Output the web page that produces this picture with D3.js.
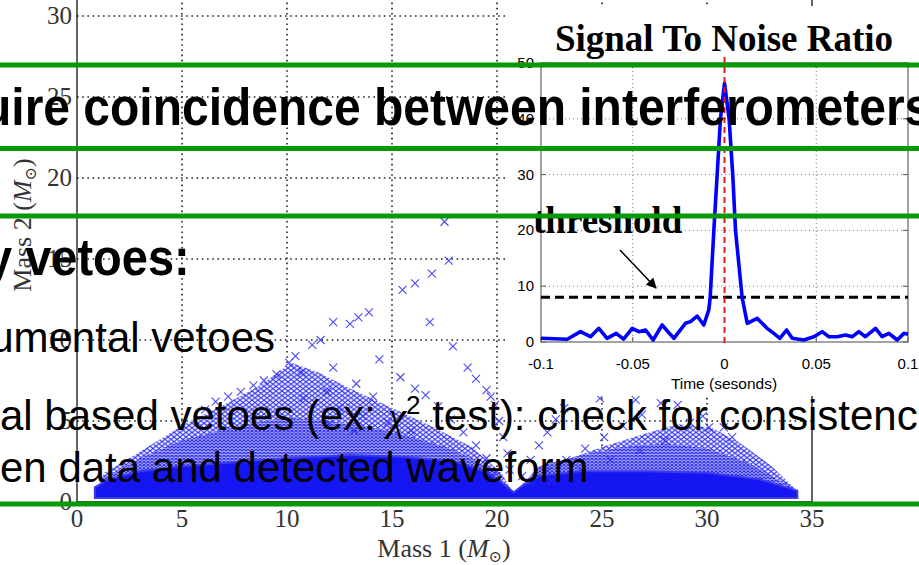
<!DOCTYPE html>
<html>
<head>
<meta charset="utf-8">
<script src="https://cdn.jsdelivr.net/npm/d3@7"></script>
<style>
  body { margin: 0; background: #fff; }
  svg { display: block; }
</style>
</head>
<body>
<svg id="chart" width="919" height="565"></svg>
<script>
// ---- template bank (Mass 1 vs Mass 2) ----
const massTicks = [0, 5, 10, 15, 20, 25, 30, 35];

// solid, fully packed part of the bank (m1, m2)
const bandOutline = [[0.85,0.25],[0.85,0.9],[1.5,1.4],[3,1.9],[5,2.2],[8,2.5],[10,2.7],[13,2.9],[15.5,2.8],[18,2.5],
  [19.6,1.8],[20.4,1.0],[20.8,0.6],[21.2,1.0],[22,1.6],[24,1.9],[27,1.9],[30,1.8],[32.5,1.4],[34.3,0.7],[34.3,0.25]];
// densely hatched part just above it
const packedOutline = [[0.9,0.3],[0.9,0.7],[1.3,1.5],[3,2.7],[5,3.8],[8,4.8],[10,5.2],[12,5.0],[14,4.6],[16,4.0],
  [18,3.2],[19.8,2.0],[20.8,0.5],[22,2.2],[24,2.9],[26,3.4],[28,3.6],[30,3.3],[32,2.4],[34.3,0.7],[34.3,0.3]];
// loosely hatched outer parts
const wedgeOutline = [[0.9,0.8],[1.3,1.8],[3,3.1],[5,4.7],[7,6.0],[8.6,7.1],[10.2,8.6],[11.5,8.0],[13,7.0],[15,5.8],
  [17,4.6],[18.8,3.4],[20.2,1.8],[20.8,0.5]];
const triOutline = [[21.0,0.6],[22.5,2.2],[25,3.4],[27,4.2],[28.6,4.8],[30.2,4.6],[31.5,3.7],[33,2.3],[34.3,0.7]];
// sparse templates drawn one by one
const templatePts = [
  [6.1,5.7],[6.6,6.2],[7.2,6.5],[7.8,6.8],[8.4,7.2],[8.9,7.5],[9.5,7.9],[10.1,8.6],[10.4,9.0],[11.2,9.7],[11.6,10.0],
  [12.2,11.1],[13.0,11.0],[13.4,11.4],[13.9,11.7],[15.5,13.1],[16.1,13.5],[16.9,14.1],[17.7,14.9],[17.5,17.3],
  [16.8,11.1],[17.9,9.6],[10.7,8.0],[12.2,8.3],[14.4,8.8],[15.4,7.7],[16.1,7.0],[16.6,6.6],[13.3,7.3],[11.9,6.8],
  [10.8,6.4],[14.1,6.5],[18.6,8.3],[19.0,7.6],[19.5,6.9],[19.7,6.5],
  [19.9,6.0],[20.1,5.0],[20.3,4.0],[20.5,3.0],[20.6,2.0],
  [17.2,5.9],[17.8,5.1],[18.4,4.3],[19.0,3.5],[19.5,2.7],[20.0,1.9],
  [12.5,5.8],[13.6,5.3],[14.8,4.9],[15.9,4.4],[12.0,4.8],[13.2,4.4],
  [21.2,1.6],[21.6,2.6],[22.0,3.5],[22.4,4.3],[22.8,5.1],[23.2,5.8],
  [21.6,1.2],[22.4,1.9],[23.3,2.6],[24.2,3.3],[25.1,4.0],[26.0,4.7],[26.9,5.4],[27.8,6.1],[28.6,6.0],
  [22.6,1.3],[24.0,2.0],[25.4,2.6],[26.8,3.2],[28.0,3.8],
  [29.2,4.9],[30.1,4.6],[30.8,4.6],[31.2,4.0],[29.8,5.3],[24.9,6.4],[26.6,6.3]
];

// ---- inset: signal to noise ratio ----
const snrTime = [-0.1,-0.0857,-0.0785,-0.073,-0.0685,-0.064,-0.059,-0.055,-0.0503,-0.0467,-0.043,-0.0389,-0.034,
  -0.0276,-0.0213,-0.0185,-0.0149,-0.0113,-0.0086,-0.0078,-0.0058,-0.004,-0.0022,0.0,0.0025,0.0045,0.006,0.0096,
  0.0124,0.0178,0.0232,0.0269,0.0302,0.0338,0.0369,0.0432,0.0487,0.0532,0.0569,0.0614,0.066,0.0697,0.0732,0.0768,
  0.0823,0.0859,0.0896,0.0941,0.0978,0.1];
const snrValue = [0.66,0.5,1.85,0.95,2.45,0.66,1.55,0.5,2.45,1.85,2.15,0.36,3.05,
  0.66,3.35,3.65,4.65,3.05,5.7,8.0,20,30,40,46.4,40,30,20,8,
  3.35,4.25,2.45,1.55,0.66,2.15,0.66,0.36,0.95,1.85,0.95,0.95,1.25,0.95,1.85,0.95,
  2.45,0.95,1.55,0.36,1.55,1.4];
const snrXTicks = [-0.1, -0.05, 0, 0.05, 0.1];
const snrYTicks = [0, 10, 20, 30, 40, 50];
const threshold = 8;

// ---- slide text over the figure ----
const slideLines = [
  "uire coincidence between interferometers",
  "y vetoes:",
  "umental vetoes",
  "al based vetoes (ex: ",
  "en data and detected waveform"
];

const svg = d3.select("#chart");

// main axes
const x = d3.scaleLinear().domain([0, 35]).range([77, 812]);
const y = d3.scaleLinear().domain([0, 35]).range([502, -65]);

const main = svg.append("g");

// dotted grid
main.selectAll(".vgrid").data(massTicks.slice(1, -1)).enter().append("line")
  .attr("x1", d => x(d)).attr("x2", d => x(d))
  .attr("y1", y(35)).attr("y2", y(0))
  .attr("stroke", "#222").attr("stroke-width", 1.6).attr("stroke-dasharray", "1.6,3.6");
main.selectAll(".hgrid").data(massTicks.slice(1, -1)).enter().append("line")
  .attr("x1", x(0)).attr("x2", x(35))
  .attr("y1", d => y(d)).attr("y2", d => y(d))
  .attr("stroke", "#222").attr("stroke-width", 1.6).attr("stroke-dasharray", "1.6,3.6");

// hatch patterns for overlapping crosses
const defs = svg.append("defs");
let addHatch = (id, w, h, col, sw, bg) => {
  let p = defs.append("pattern").attr("id", id)
    .attr("patternUnits", "userSpaceOnUse").attr("width", w).attr("height", h);
  if (bg) p.append("rect").attr("width", w).attr("height", h).attr("fill", bg);
  p.append("path").attr("d", `M0,0L${w},${h}M0,${h}L${w},0`)
    .attr("stroke", col).attr("stroke-width", sw).attr("fill", "none");
};
addHatch("hatch", 6, 4.6, "#3030ee", 1, "#eeeefd");
addHatch("hatch2", 4, 3.1, "#2020f0", 1, "#b8b8f8");

const area = d3.line().x(d => x(d[0])).y(d => y(d[1]));
main.append("path").attr("d", area(wedgeOutline) + "Z").attr("fill", "url(#hatch)");
main.append("path").attr("d", area(triOutline) + "Z").attr("fill", "url(#hatch)");
main.append("path").attr("d", area(packedOutline) + "Z").attr("fill", "url(#hatch2)");
main.append("path").attr("d", area(bandOutline) + "Z").attr("fill", "#1616f2")
  .attr("stroke", "#3a3af0").attr("stroke-width", 2);

main.selectAll(".tmpl").data(templatePts).enter().append("path")
  .attr("transform", d => `translate(${x(d[0])},${y(d[1])})`)
  .attr("d", "M-4,-4L4,4M-4,4L4,-4")
  .attr("stroke", "#2c2cf0").attr("stroke-width", 1.1).attr("fill", "none").attr("opacity", 0.85);

// frame
main.append("line").attr("x1", x(0)).attr("x2", x(0)).attr("y1", y(35)).attr("y2", y(0)).attr("stroke", "#111").attr("stroke-width", 1.3);
main.append("line").attr("x1", x(35)).attr("x2", x(35)).attr("y1", y(35)).attr("y2", y(0)).attr("stroke", "#111").attr("stroke-width", 1.3);
main.append("line").attr("x1", x(0)).attr("x2", x(35)).attr("y1", y(0)).attr("y2", y(0)).attr("stroke", "#111").attr("stroke-width", 1.3);

const serif = "'Liberation Serif', 'DejaVu Serif', serif";
main.selectAll(".xl").data(massTicks).enter().append("text")
  .attr("x", d => x(d)).attr("y", 527).attr("text-anchor", "middle")
  .style("font-family", serif).style("font-size", "25px").attr("fill", "#333").text(d => d);
main.selectAll(".yl").data(massTicks.slice(0, -1)).enter().append("text")
  .attr("x", 72).attr("y", d => y(d) + 8).attr("text-anchor", "end")
  .style("font-family", serif).style("font-size", "25px").attr("fill", "#333").text(d => d);

const xlab = main.append("text").attr("x", 444).attr("y", 557).attr("text-anchor", "middle")
  .style("font-family", serif).style("font-size", "26px").attr("fill", "#333");
xlab.append("tspan").text("Mass 1 (");
xlab.append("tspan").style("font-style", "italic").text("M");
xlab.append("tspan").style("font-size", "16px").attr("dy", 5).text("⊙");
xlab.append("tspan").attr("dy", -5).text(")");

const ylab = main.append("text").attr("transform", "translate(31,225) rotate(-90)").attr("text-anchor", "middle")
  .style("font-family", serif).style("font-size", "26px").attr("fill", "#333");
ylab.append("tspan").text("Mass 2 (");
ylab.append("tspan").style("font-style", "italic").text("M");
ylab.append("tspan").style("font-size", "16px").attr("dy", 5).text("⊙");
ylab.append("tspan").attr("dy", -5).text(")");

// ---- inset ----
const inset = svg.append("g");
inset.append("rect").attr("x", 505).attr("y", 6).attr("width", 414).attr("height", 390).attr("fill", "#fff");

const xs = d3.scaleLinear().domain([-0.1, 0.1]).range([541, 908]);
const ys = d3.scaleLinear().domain([0, 50]).range([342, 63]);
const sans = "'Liberation Sans', Arial, sans-serif";

inset.selectAll(".ig").data([-0.05, 0.05]).enter().append("line")
  .attr("x1", d => xs(d)).attr("x2", d => xs(d)).attr("y1", ys(50)).attr("y2", ys(0))
  .attr("stroke", "#777").attr("stroke-width", 1).attr("stroke-dasharray", "1,3");
inset.selectAll(".igy").data(snrYTicks.slice(1, -1)).enter().append("line")
  .attr("x1", xs(-0.1)).attr("x2", xs(0.1)).attr("y1", d => ys(d)).attr("y2", d => ys(d))
  .attr("stroke", "#777").attr("stroke-width", 1).attr("stroke-dasharray", "1,3");

// ticks on all four sides
snrXTicks.forEach(t => {
  inset.append("line").attr("x1", xs(t)).attr("x2", xs(t)).attr("y1", ys(0)).attr("y2", ys(0) - 5).attr("stroke", "#555");
  inset.append("line").attr("x1", xs(t)).attr("x2", xs(t)).attr("y1", ys(50)).attr("y2", ys(50) + 5).attr("stroke", "#555");
});
snrYTicks.forEach(t => {
  inset.append("line").attr("x1", xs(-0.1)).attr("x2", xs(-0.1) + 5).attr("y1", ys(t)).attr("y2", ys(t)).attr("stroke", "#555");
  inset.append("line").attr("x1", xs(0.1)).attr("x2", xs(0.1) - 5).attr("y1", ys(t)).attr("y2", ys(t)).attr("stroke", "#555");
});
inset.append("rect").attr("x", xs(-0.1)).attr("y", ys(50)).attr("width", xs(0.1) - xs(-0.1)).attr("height", ys(0) - ys(50))
  .attr("fill", "none").attr("stroke", "#666").attr("stroke-width", 1.2);

inset.selectAll(".ixl").data(snrXTicks).enter().append("text")
  .attr("x", d => xs(d)).attr("y", 369).attr("text-anchor", "middle")
  .style("font-family", sans).style("font-size", "15px").attr("fill", "#000").text(d => d);
inset.selectAll(".iyl").data(snrYTicks).enter().append("text")
  .attr("x", 534).attr("y", d => ys(d) + 5).attr("text-anchor", "end")
  .style("font-family", sans).style("font-size", "15px").attr("fill", "#000").text(d => d);
inset.append("text").attr("x", 724).attr("y", 389).attr("text-anchor", "middle")
  .style("font-family", sans).style("font-size", "15.5px").text("Time (sesonds)");
inset.append("text").attr("x", 724).attr("y", 51).attr("text-anchor", "middle")
  .style("font-family", serif).style("font-weight", "bold").style("font-size", "37px").text("Signal To Noise Ratio");

// threshold
inset.append("line").attr("x1", xs(-0.1)).attr("x2", xs(0.1)).attr("y1", ys(threshold)).attr("y2", ys(threshold))
  .attr("stroke", "#000").attr("stroke-width", 3).attr("stroke-dasharray", "9,5");

// SNR curve
const snrData = snrTime.map((t, i) => [t, snrValue[i]]);
inset.append("path").datum(snrData)
  .attr("d", d3.line().x(d => xs(d[0])).y(d => ys(d[1])))
  .attr("fill", "none").attr("stroke", "#0000ff").attr("stroke-width", 3.6).attr("stroke-linejoin", "round");

// event time marker
inset.append("line").attr("x1", xs(0)).attr("x2", xs(0)).attr("y1", 57).attr("y2", 345)
  .attr("stroke", "#e81818").attr("stroke-width", 2).attr("stroke-dasharray", "6,4");

inset.append("text").attr("x", 533).attr("y", 233)
  .style("font-family", serif).style("font-weight", "bold").style("font-size", "37px").text("threshold");
defs.append("marker").attr("id", "arrow").attr("viewBox", "0 0 10 10").attr("refX", 9).attr("refY", 5)
  .attr("markerWidth", 7).attr("markerHeight", 7).attr("orient", "auto")
  .append("path").attr("d", "M0,0L10,5L0,10Z").attr("fill", "#000");
inset.append("line").attr("x1", 620).attr("y1", 250).attr("x2", 656).attr("y2", 288)
  .attr("stroke", "#000").attr("stroke-width", 1.5).attr("marker-end", "url(#arrow)");

// ---- slide text ----
const slide = svg.append("g").style("font-family", sans).attr("fill", "#000");
slide.append("text").attr("transform", "translate(-18,125) scale(1,1.08)")
  .style("font-weight", "bold").style("font-size", "48px").text(slideLines[0]);
slide.append("text").attr("transform", "translate(-14,275) scale(1,1.1)")
  .style("font-weight", "bold").style("font-size", "47px").text(slideLines[1]);
slide.append("text").attr("x", 275).attr("y", 352).attr("text-anchor", "end")
  .style("font-size", "42px").text(slideLines[2]);
const l4 = slide.append("text").attr("x", 0).attr("y", 430).style("font-size", "42px");
l4.append("tspan").text(slideLines[3]);
l4.append("tspan").style("font-family", serif).style("font-style", "italic").text("χ");
l4.append("tspan").style("font-size", "26px").attr("dy", -16).text("2");
l4.append("tspan").attr("dy", 16).text(" test): check for consistenc");
slide.append("text").attr("x", 0).attr("y", 482).style("font-size", "42px").text(slideLines[4]);

// green rules
svg.append("g").selectAll("line").data([65, 148.5, 216, 504]).enter().append("line")
  .attr("x1", 0).attr("x2", 919).attr("y1", d => d).attr("y2", d => d)
  .attr("stroke", "#079907").attr("stroke-width", 5);
</script>
</body>
</html>
